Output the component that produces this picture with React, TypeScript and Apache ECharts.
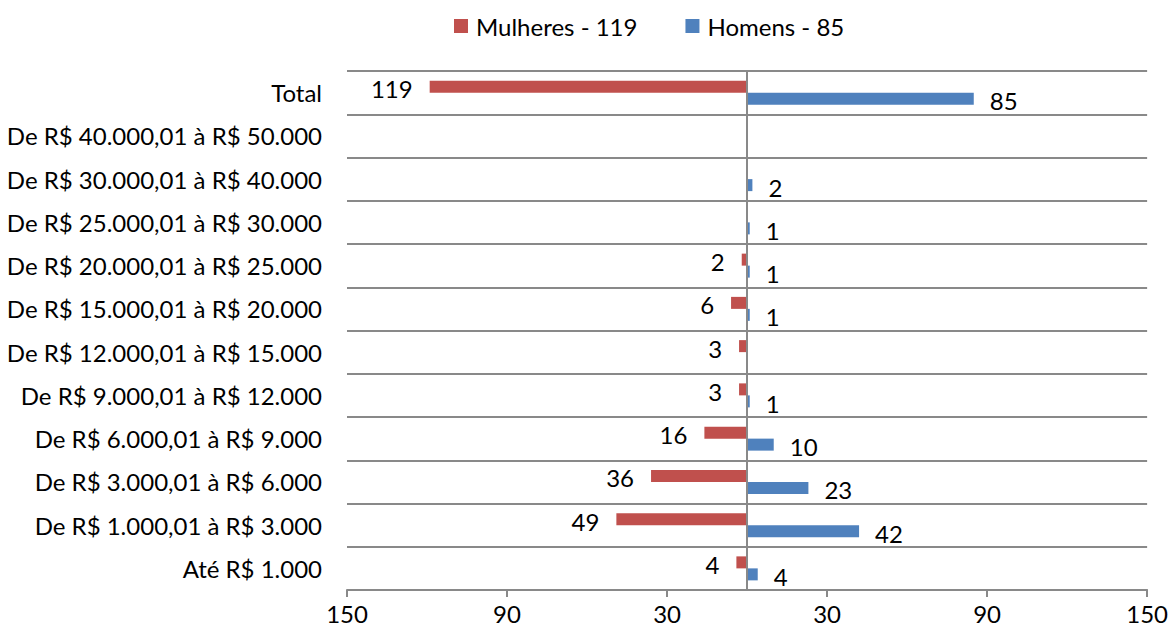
import React, { useEffect, useRef } from "react";
import * as echarts from "echarts";

// Categories listed bottom-to-top (ECharts category y axis starts at the bottom)
const categories = [
  "Até R$ 1.000",
  "De R$ 1.000,01 à R$ 3.000",
  "De R$ 3.000,01 à R$ 6.000",
  "De R$ 6.000,01 à R$ 9.000",
  "De R$ 9.000,01 à R$ 12.000",
  "De R$ 12.000,01 à R$ 15.000",
  "De R$ 15.000,01 à R$ 20.000",
  "De R$ 20.000,01 à R$ 25.000",
  "De R$ 25.000,01 à R$ 30.000",
  "De R$ 30.000,01 à R$ 40.000",
  "De R$ 40.000,01 à R$ 50.000",
  "Total",
];

const mulheres: (number | null)[] = [4, 49, 36, 16, 3, 3, 6, 2, null, null, null, 119];
const homens: (number | null)[] = [4, 42, 23, 10, 1, null, 1, 1, 1, 2, null, 85];

const tickValues = [-150, -90, -30, 30, 90, 150];

const seriesNames = ["Mulheres - 119", "Homens - 85"];
const colors = ["#C0504D", "#4F81BD"];

const FONT = "Lato";

export default function App() {
  const ref = useRef<HTMLDivElement>(null);

  useEffect(() => {
    if (!ref.current) return;
    const chart = echarts.init(ref.current, undefined, { renderer: "svg" });
    const grayLine = "#898989";
    chart.setOption({
      animation: false,
      textStyle: { fontFamily: FONT },
      legend: {
        data: seriesNames,
        top: 9,
        left: 449,
        icon: "rect",
        itemWidth: 14,
        itemHeight: 14,
        itemGap: 48,
        textStyle: { fontSize: 24, color: "#000", fontFamily: FONT, padding: [0, 0, 0, 3] },
      },
      grid: { left: 347, right: 23, top: 71, bottom: 43, containLabel: false },
      xAxis: {
        type: "value",
        min: -150,
        max: 150,
        axisLine: { show: true, lineStyle: { color: grayLine, width: 2 } },
        axisTick: { show: true, length: 7, lineStyle: { color: grayLine, width: 2 }, customValues: tickValues },
        axisLabel: {
          customValues: tickValues,
          formatter: (v: number) => String(Math.abs(v)),
          fontSize: 24,
          color: "#000",
          fontFamily: FONT,
          margin: 11,
        },
        splitLine: { show: false },
      },
      yAxis: {
        type: "category",
        data: categories,
        axisLine: { show: false },
        axisTick: { show: false },
        splitLine: { show: true, lineStyle: { color: grayLine, width: 2 } },
        axisLabel: { fontSize: 24, color: "#000", fontFamily: FONT, margin: 25 },
      },
      series: [
        {
          name: seriesNames[0],
          type: "bar",
          data: mulheres.map((v) => (v == null ? null : -v)),
          barWidth: 12,
          barGap: "0%",
          itemStyle: { color: colors[0] },
          label: {
            show: true,
            position: "left",
            distance: 17,
            offset: [0, 2],
            formatter: (p: any) => String(Math.abs(p.value)),
            fontSize: 24,
            color: "#000",
            fontFamily: FONT,
          },
          markLine: {
            silent: true,
            symbol: "none",
            label: { show: false },
            lineStyle: { color: grayLine, width: 2, type: "solid" },
            data: [{ xAxis: 0 }],
          },
        },
        {
          name: seriesNames[1],
          type: "bar",
          data: homens,
          barWidth: 12,
          barGap: "0%",
          itemStyle: { color: colors[1] },
          label: {
            show: true,
            position: "right",
            distance: 16,
            offset: [0, 2],
            fontSize: 24,
            color: "#000",
            fontFamily: FONT,
          },
        },
      ],
    });
    return () => chart.dispose();
  }, []);

  return (
    <div
      ref={ref}
      style={{ position: "fixed", left: 0, top: 0, width: 1171, height: 633, background: "#fff" }}
    />
  );
}
